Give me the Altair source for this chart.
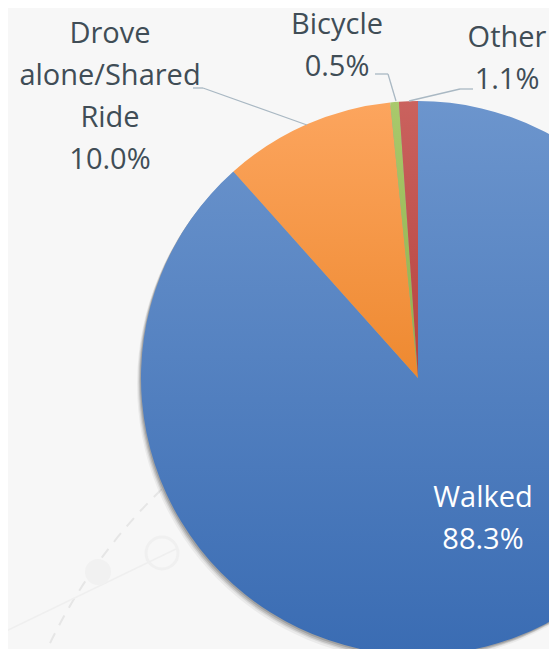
import math
import altair as alt
import pandas as pd

# ---- data ----
modes = ["Walked", "Drove alone/Shared Ride", "Bicycle", "Other"]
shares = [88.3, 10.0, 0.5, 1.1]
display = ["Walked", "Drove\nalone/Shared\nRide", "Bicycle", "Other"]
grad_top = ["#6c95cd", "#fca55e", "#a9c96c", "#ca625e"]
grad_bottom = ["#3a6cb3", "#ee8930", "#8fb04a", "#b6433f"]

df = pd.DataFrame({"mode": modes, "share": shares, "display": display, "idx": list(range(len(modes)))})
total = sum(shares)

CX, CY, R = 410, 370, 277
TEXT = "#404d56"
LEADER = "#a9b8c3"
FONT = "Open Sans"

theta_scale = alt.Scale(domain=[0, total], range=[0, 2 * math.pi])

base = (
    alt.Chart(df)
    .transform_window(cum="sum(share)", sort=[alt.SortField("idx")])
    .transform_calculate(start="datum.cum - datum.share",
                         txt="datum.display + '\\n' + format(datum.share, '.1f') + '%'")
)
one = base.transform_filter(alt.datum.idx == 0)

layers = []

# faint decorative background elements
layers.append(
    one.mark_arc(theta=0, theta2=2 * math.pi, radius=546, fillOpacity=0,
                 stroke="#e6e6e6", strokeWidth=2, strokeDash=[11, 9])
    .encode(x=alt.value(533), y=alt.value(874))
)
layers.append(
    one.mark_rule(color="#efefef", strokeWidth=1.5)
    .encode(x=alt.value(-8), y=alt.value(626), x2=alt.value(170), y2=alt.value(540))
)
layers.append(
    one.mark_arc(theta=0, theta2=2 * math.pi, radius=13, fill="#f1f1f1")
    .encode(x=alt.value(90), y=alt.value(564))
)
layers.append(
    one.mark_arc(theta=0, theta2=2 * math.pi, radius=16, fillOpacity=0,
                 stroke="#f0f0f0", strokeWidth=3)
    .encode(x=alt.value(154), y=alt.value(545))
)

# soft shadow
for dx, dy, op in [(-4, 6, 0.05), (-3, 4, 0.08), (-2, 3, 0.12), (-1, 1.5, 0.15)]:
    layers.append(
        one.mark_arc(theta=0, theta2=2 * math.pi, radius=R, fill="#000000", opacity=op)
        .encode(x=alt.value(CX + dx), y=alt.value(CY + dy))
    )

# slices with vertical gradients
for i, m in enumerate(modes):
    grad = alt.LinearGradient(
        gradient="linear",
        stops=[alt.GradientStop(color=grad_top[i], offset=0),
               alt.GradientStop(color=grad_bottom[i], offset=1)],
        x1=0, x2=0, y1=0, y2=1,
    )
    layers.append(
        base.transform_filter(alt.datum.mode == m)
        .mark_arc(fill=grad, radius=R)
        .encode(theta=alt.Theta("start:Q", scale=theta_scale),
                theta2="cum:Q",
                x=alt.value(CX), y=alt.value(CY))
    )

# leader lines
segments = [
    (185, 80, 195, 80), (195, 80, 299, 117),
    (367, 66, 380, 66), (380, 66, 388, 93),
    (465, 81, 452, 81), (452, 81, 401, 93),
]
for x1, y1, x2, y2 in segments:
    layers.append(
        one.mark_rule(color=LEADER, strokeWidth=1.3)
        .encode(x=alt.value(x1), y=alt.value(y1), x2=alt.value(x2), y2=alt.value(y2))
    )

# labels
label_pos = {"Walked": (475, 499, "white"),
             "Drove alone/Shared Ride": (102, 35, TEXT),
             "Bicycle": (329, 26, TEXT),
             "Other": (499, 39, TEXT)}
for m, (lx, ly, col) in label_pos.items():
    layers.append(
        base.transform_filter(alt.datum.mode == m)
        .mark_text(font=FONT, fontSize=29, color=col, align="center",
                   baseline="alphabetic", lineBreak="\n", lineHeight=42)
        .encode(text="txt:N", x=alt.value(lx), y=alt.value(ly))
    )

chart = (
    alt.layer(*layers)
    .properties(width=541, height=641, padding=0, autosize="none")
    .configure(background="#f7f7f7")
    .configure_view(strokeWidth=0)
)

chart.save("out.html", embed_options={"renderer": "svg", "actions": False})
